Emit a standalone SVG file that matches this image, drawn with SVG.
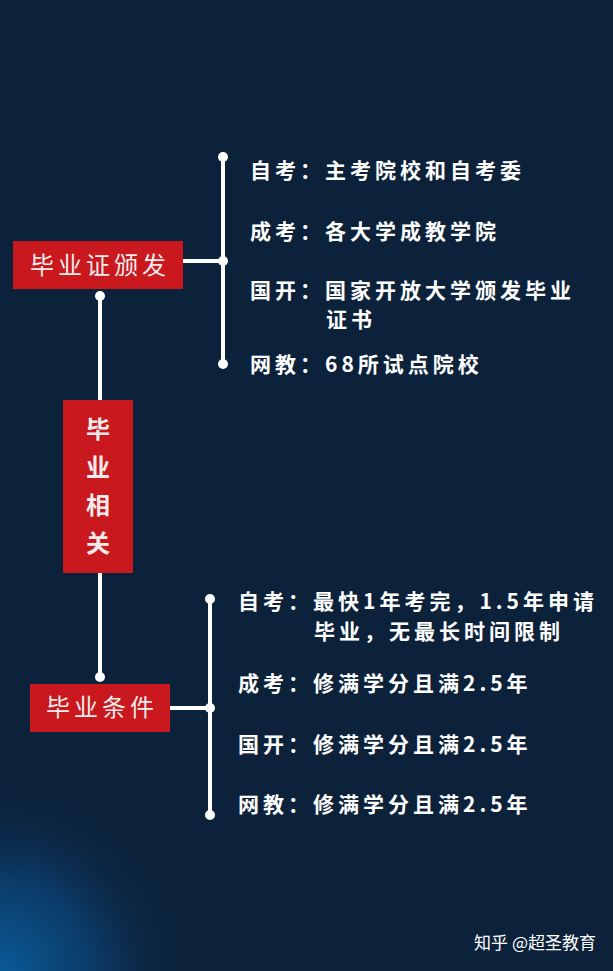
<svg xmlns="http://www.w3.org/2000/svg" width="613" height="971" viewBox="0 0 613 971">
<defs>
<radialGradient id="glow" cx="0" cy="971" r="190" gradientUnits="userSpaceOnUse">
<stop offset="0" stop-color="#0a5a96"/><stop offset="0.5" stop-color="#0b3a66"/><stop offset="1" stop-color="#0c223b" stop-opacity="0"/>
</radialGradient>
<style>
.box{fill:#c9181e}
.bt{fill:#f3ecec;font-family:"Noto Sans CJK SC",sans-serif;font-size:24px}
.t{fill:#ffffff;font-family:"Noto Sans CJK SC",sans-serif;font-size:21px;font-weight:bold;letter-spacing:4px}
.ln{stroke:#ffffff;stroke-width:4;fill:none}
.dot{fill:#ffffff}
</style>
</defs>
<rect width="613" height="971" fill="#0c223b"/>
<rect width="613" height="971" fill="url(#glow)"/>
<g id="connectors">
<path class="ln" d="M223 157V364M183 261H223M100 296V400M100 573V677M170 708H210M210 599V815"/>
<circle class="dot" cx="223" cy="157" r="5"/><circle class="dot" cx="223" cy="261" r="5"/><circle class="dot" cx="223" cy="364" r="5"/>
<circle class="dot" cx="100" cy="296" r="5"/><circle class="dot" cx="100" cy="677" r="5"/>
<circle class="dot" cx="210" cy="599" r="5"/><circle class="dot" cx="210" cy="708" r="5"/><circle class="dot" cx="210" cy="815" r="5"/>
</g>
<g id="n1"><rect class="box" x="13" y="241" width="170" height="48"/><text class="bt" x="100" y="274" text-anchor="middle" letter-spacing="4">毕业证颁发</text></g>
<g id="root"><rect class="box" x="63" y="400" width="70" height="173"/>
<text class="bt" text-anchor="middle" font-size="33" font-weight="bold"><tspan x="98" y="438">毕</tspan><tspan x="98" y="476">业</tspan><tspan x="98" y="514">相</tspan><tspan x="98" y="552">关</tspan></text></g>
<g id="n2"><rect class="box" x="30" y="684" width="140" height="48"/><text class="bt" x="102" y="716" text-anchor="middle" letter-spacing="4">毕业条件</text></g>
<g id="top-items">
<text class="t" x="250" y="178">自考：主考院校和自考委</text>
<text class="t" x="250" y="239">成考：各大学成教学院</text>
<text class="t" x="250" y="298">国开：国家开放大学颁发毕业</text>
<text class="t" x="326" y="327">证书</text>
<text class="t" x="250" y="372">网教：68所试点院校</text>
</g>
<g id="bottom-items">
<text class="t" x="238" y="609">自考：最快1年考完，1.5年申请</text>
<text class="t" x="314" y="639">毕业，无最长时间限制</text>
<text class="t" x="238" y="691">成考：修满学分且满2.5年</text>
<text class="t" x="238" y="752">国开：修满学分且满2.5年</text>
<text class="t" x="238" y="812">网教：修满学分且满2.5年</text>
</g>
<text x="596" y="949" text-anchor="end" fill="#ffffff" font-family="Noto Sans CJK SC,sans-serif" font-size="17">知乎 @超圣教育</text>
</svg>
